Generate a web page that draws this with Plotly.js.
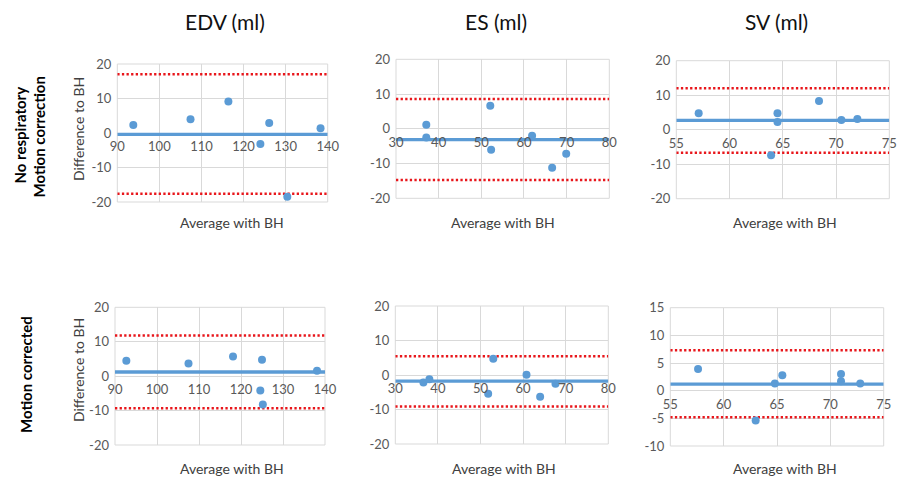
<!DOCTYPE html>
<html>
<head>
<meta charset="utf-8">
<script src="https://cdn.plot.ly/plotly-3.0.1.min.js"></script>
<style>html,body{margin:0;padding:0;background:#fff;}#chart{width:906px;height:487px;}</style>
</head>
<body>
<div id="chart"></div>
<script>
// ---- Data ----
const columnTitles = ["EDV (ml)", "ES (ml)", "SV (ml)"];
const rowTitles = [["No respiratory", "Motion correction"], ["Motion corrected"]];
const xTitle = "Average with BH";
const yTitle = "Difference to BH";

// Row 1: no respiratory motion correction
const edvNoX = [93.8, 107.4, 116.4, 124.0, 126.1, 130.4, 138.3];
const edvNoY = [2.3, 4.0, 9.1, -3.2, 2.9, -18.5, 1.4];
const edvNoStats = [-0.4, 17.0, -17.6]; // mean, upper, lower

const esNoX = [37.1, 37.1, 52.1, 52.3, 61.9, 66.6, 69.9];
const esNoY = [1.2, -2.5, 6.6, -6.0, -2.0, -11.2, -7.2];
const esNoStats = [-3.1, 8.6, -14.7];

const svNoX = [57.1, 64.5, 64.5, 63.9, 68.4, 70.5, 72.0];
const svNoY = [4.8, 4.8, 2.2, -7.4, 8.3, 2.8, 3.1];
const svNoStats = [2.7, 12.0, -6.7];

// Row 2: motion corrected
const edvMcX = [92.7, 107.5, 118.1, 125.0, 124.6, 125.2, 138.1];
const edvMcY = [4.5, 3.7, 5.7, 4.8, -4.2, -8.2, 1.6];
const edvMcStats = [1.2, 11.8, -9.3];

const esMcX = [36.6, 38.0, 51.8, 53.0, 60.8, 64.0, 67.6];
const esMcY = [-2.2, -1.2, -5.4, 4.7, 0.1, -6.3, -2.5];
const esMcStats = [-1.8, 5.4, -9.1];

const svMcX = [57.6, 63.0, 64.8, 65.5, 71.0, 71.0, 72.8];
const svMcY = [3.9, -5.4, 1.3, 2.8, 3.0, 1.7, 1.3];
const svMcStats = [1.2, 7.3, -4.8];

// Axis ranges and tick steps
const edvXRange = [90, 140], esXRange = [30, 80], svXRange = [55, 75];
const diffRange = [-20, 20], svMcRange = [-10, 15];
const edvXStep = 10, esXStep = 10, svXStep = 5;
const diffStep = 10, svMcStep = 5;

// ---- Layout ----
const W = 906, H = 487;
const BLUE = "#5B9BD5", RED = "#E8161B", GRID = "#D9D9D9", TICK = "#595959";
const FONT = "Lato, 'Open Sans', sans-serif";

const panels = [
  {x: edvNoX, y: edvNoY, s: edvNoStats, xr: edvXRange, xs: edvXStep, yr: diffRange, ys: diffStep, box: [117.3, 64, 327.7, 202]},
  {x: esNoX, y: esNoY, s: esNoStats, xr: esXRange, xs: esXStep, yr: diffRange, ys: diffStep, box: [396, 59.3, 609.3, 198.3]},
  {x: svNoX, y: svNoY, s: svNoStats, xr: svXRange, xs: svXStep, yr: diffRange, ys: diffStep, box: [676.3, 60.7, 889.3, 198.7]},
  {x: edvMcX, y: edvMcY, s: edvMcStats, xr: edvXRange, xs: edvXStep, yr: diffRange, ys: diffStep, box: [115, 307.3, 325, 445]},
  {x: esMcX, y: esMcY, s: esMcStats, xr: esXRange, xs: esXStep, yr: diffRange, ys: diffStep, box: [395.3, 306, 608.3, 444]},
  {x: svMcX, y: svMcY, s: svMcStats, xr: svXRange, xs: svXStep, yr: svMcRange, ys: svMcStep, box: [670.3, 307.7, 883.7, 446]}
];

function ticks(r, step) {
  const v = [];
  for (let t = r[0]; t <= r[1] + 1e-9; t += step) v.push(t);
  return v;
}

const data = [];
const layout = {
  width: W, height: H,
  margin: {l: 0, r: 0, t: 0, b: 0},
  paper_bgcolor: "#fff", plot_bgcolor: "#fff",
  showlegend: false,
  font: {family: FONT, color: TICK, size: 12},
  shapes: [], annotations: []
};

panels.forEach((p, i) => {
  const n = i + 1;
  const xa = "x" + n, ya = "y" + n;
  const xd = [p.box[0] / W, p.box[2] / W];
  const yd = [1 - p.box[3] / H, 1 - p.box[1] / H];
  const zeroPos = yd[0] + (0 - p.yr[0]) / (p.yr[1] - p.yr[0]) * (yd[1] - yd[0]);
  const xt = ticks(p.xr, p.xs), yt = ticks(p.yr, p.ys);

  layout["xaxis" + n] = {
    domain: xd, range: p.xr, anchor: "free", position: zeroPos,
    tickmode: "array", tickvals: xt, ticktext: xt.map(String),
    showgrid: true, gridcolor: GRID, gridwidth: 1, zeroline: false, showline: false,
    ticks: "", ticklabelstandoff: 4, tickfont: {family: FONT, size: 13, color: TICK},
    fixedrange: true
  };
  layout["yaxis" + n] = {
    domain: yd, range: p.yr, anchor: xa,
    tickmode: "array", tickvals: yt, ticktext: yt.map(String),
    showgrid: true, gridcolor: GRID, gridwidth: 1, zeroline: false, showline: false,
    ticks: "", ticklabelstandoff: 5, tickfont: {family: FONT, size: 13, color: TICK},
    fixedrange: true
  };

  // plot border
  layout.shapes.push({type: "rect", xref: xa + " domain", yref: ya + " domain", x0: 0, x1: 1, y0: 0, y1: 1,
    line: {color: GRID, width: 1}, layer: "below"});

  // limits of agreement (dotted) and mean (solid)
  [1, 2].forEach(k => {
    data.push({type: "scatter", mode: "lines", x: p.xr, y: [p.s[k], p.s[k]], xaxis: xa, yaxis: ya,
      line: {color: RED, width: 2.5, dash: "2.3px,2.3px"}, hoverinfo: "skip", cliponaxis: false});
  });
  data.push({type: "scatter", mode: "lines", x: p.xr, y: [p.s[0], p.s[0]], xaxis: xa, yaxis: ya,
    line: {color: BLUE, width: 3.3}, hoverinfo: "skip", cliponaxis: false});
  data.push({type: "scatter", mode: "markers", x: p.x, y: p.y, xaxis: xa, yaxis: ya,
    marker: {color: BLUE, size: 8, line: {width: 0}}, cliponaxis: false});
});

function ann(text, px, py, opts) {
  layout.annotations.push(Object.assign({
    text: text, xref: "paper", yref: "paper", x: px / W, y: 1 - py / H,
    xanchor: "center", yanchor: "middle", showarrow: false
  }, opts || {}));
}

// column titles
[[225, 21], [496, 21], [776, 21]].forEach((c, i) =>
  ann(columnTitles[i], c[0], c[1], {font: {family: FONT, size: 21, color: "#111"}}));

// row titles
ann("<b>" + rowTitles[0][0] + "</b>", 19, 135.5, {textangle: -90, font: {family: FONT, size: 15, color: "#000"}});
ann("<b>" + rowTitles[0][1] + "</b>", 38, 137.5, {textangle: -90, font: {family: FONT, size: 15, color: "#000"}});
ann("<b>" + rowTitles[1][0] + "</b>", 26, 375, {textangle: -90, font: {family: FONT, size: 15, color: "#000"}});

// y axis titles (left column only)
ann(yTitle, 78, 129, {textangle: -90, font: {family: FONT, size: 14, color: "#404040"}});
ann(yTitle, 78, 370, {textangle: -90, font: {family: FONT, size: 14, color: "#404040"}});

// x axis titles
[[232, 223], [503, 223], [785, 223], [232, 468], [504, 468], [785, 468]].forEach(c =>
  ann(xTitle, c[0], c[1], {font: {family: FONT, size: 14, color: "#404040"}}));

Plotly.newPlot("chart", data, layout, {staticPlot: true, displayModeBar: false});
</script>
</body>
</html>
